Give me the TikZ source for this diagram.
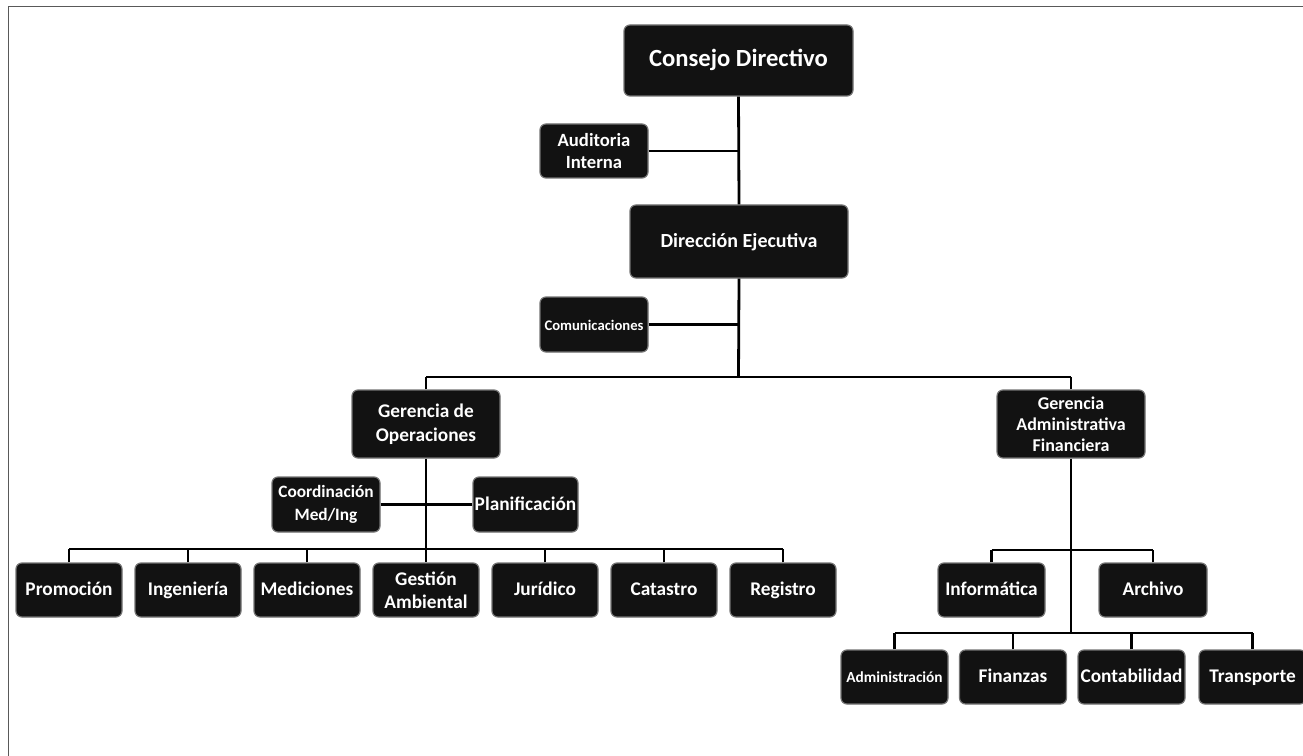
\documentclass[tikz,border=0pt]{standalone}
\usepackage{fontspec}
\setmainfont{Carlito}
\begin{document}
\begin{tikzpicture}[x=0.75pt,y=-0.75pt,
  box/.style={draw=black!55, line width=0.9pt, fill={rgb,255:red,18;green,18;blue,18},
    rounded corners=4.5pt, text=white, align=center, inner sep=1pt,
    font=\bfseries\fontsize{14.5}{18}\selectfont},
  sbox/.style={box, text height=1.0em, text depth=0.14em},
  conn/.style={line width=2.1pt, black},
  frame/.style={line width=1.1pt, black!65}]
\useasboundingbox (0,0) rectangle (1303,756);
\draw[frame] (8.5,756) -- (8.5,6.5) -- (1303,6.5);

% top levels
\node[sbox, minimum width=229*0.75pt, minimum height=71*0.75pt, font=\bfseries\fontsize{18.5}{22}\selectfont] (cd) at (738.5,60.5) {Consejo Directivo};
\node[box, minimum width=108*0.75pt, minimum height=54*0.75pt, font=\bfseries\fontsize{14}{17}\selectfont] (ai) at (594,151) {Auditoria\\Interna};
\node[sbox, minimum width=218*0.75pt, minimum height=73*0.75pt, font=\bfseries\fontsize{15}{18}\selectfont] (de) at (739,241.5) {Dirección Ejecutiva};
\node[sbox, minimum width=108*0.75pt, minimum height=55*0.75pt, font=\bfseries\fontsize{11}{13}\selectfont] (com) at (594,324.5) {Comunicaciones};

% managers
\node[box, minimum width=148*0.75pt, minimum height=68*0.75pt] (go) at (426,424) {Gerencia de\\Operaciones};
\node[box, minimum width=148*0.75pt, minimum height=68*0.75pt, font=\bfseries\fontsize{13.5}{15.8}\selectfont] (gaf) at (1071,424) {Gerencia\\Administrativa\\Financiera};

\node[box, minimum width=108*0.75pt, minimum height=55*0.75pt, font=\bfseries\fontsize{13}{17}\selectfont] (coord) at (326,504.5) {Coordinación\\Med/Ing};
\node[sbox, minimum width=105*0.75pt, minimum height=55*0.75pt] (plan) at (525.5,504.5) {Planificación};

% operations row
\node[sbox, minimum width=106*0.75pt, minimum height=54*0.75pt] (p1) at (69,590) {Promoción};
\node[sbox, minimum width=106*0.75pt, minimum height=54*0.75pt] (p2) at (188,590) {Ingeniería};
\node[sbox, minimum width=106*0.75pt, minimum height=54*0.75pt] (p3) at (307,590) {Mediciones};
\node[box, minimum width=106*0.75pt, minimum height=54*0.75pt, font=\bfseries\fontsize{14.5}{17}\selectfont] (p4) at (426,590) {Gestión\\Ambiental};
\node[sbox, minimum width=106*0.75pt, minimum height=54*0.75pt] (p5) at (545,590) {Jurídico};
\node[sbox, minimum width=106*0.75pt, minimum height=54*0.75pt] (p6) at (664,590) {Catastro};
\node[sbox, minimum width=106*0.75pt, minimum height=54*0.75pt] (p7) at (783,590) {Registro};

% admin side
\node[sbox, minimum width=107*0.75pt, minimum height=54*0.75pt] (inf) at (991.5,590) {Informática};
\node[sbox, minimum width=108*0.75pt, minimum height=54*0.75pt] (arc) at (1153,590) {Archivo};

\node[sbox, minimum width=107*0.75pt, minimum height=54*0.75pt, font=\bfseries\fontsize{11.5}{14}\selectfont] (b1) at (894.5,677) {Administración};
\node[sbox, minimum width=107*0.75pt, minimum height=54*0.75pt] (b2) at (1013,677) {Finanzas};
\node[sbox, minimum width=107*0.75pt, minimum height=54*0.75pt] (b3) at (1131.5,677) {Contabilidad};
\node[sbox, minimum width=107*0.75pt, minimum height=54*0.75pt] (b4) at (1252.5,677) {Transporte};

% bus coordinates
\coordinate (busA) at (738.5,377);
\coordinate (busB) at (426,549);
\coordinate (busC) at (1071,550);
\coordinate (busD) at (1071,633);

\draw[conn] (cd.south) -- (de.north);
\draw[conn] (ai.east) -- (ai.east -| cd.south);
\draw[conn] (de.south) -- (busA);
\draw[conn] (com.east) -- (com.east -| de.south);
\draw[conn] (go.north |- busA) -- (gaf.north |- busA);
\draw[conn] (go.north) -- (go.north |- busA);
\draw[conn] (gaf.north) -- (gaf.north |- busA);
% operations
\draw[conn] (go.south) -- (p4.north);
\draw[conn] (coord.east) -- (coord.east -| go.south);
\draw[conn] (plan.west) -- (plan.west -| go.south);
\draw[conn] (p1.north |- busB) -- (p7.north |- busB);
\foreach \n in {p1,p2,p3,p5,p6,p7} \draw[conn] (\n.north) -- (\n.north |- busB);
% admin
\draw[conn] (gaf.south) -- (busD);
\draw[conn] (inf.north |- busC) -- (arc.north |- busC);
\draw[conn] (inf.north) -- (inf.north |- busC);
\draw[conn] (arc.north) -- (arc.north |- busC);
\draw[conn] (b1.north |- busD) -- (b4.north |- busD);
\foreach \n in {b1,b2,b3,b4} \draw[conn] (\n.north) -- (\n.north |- busD);
\end{tikzpicture}
\end{document}
